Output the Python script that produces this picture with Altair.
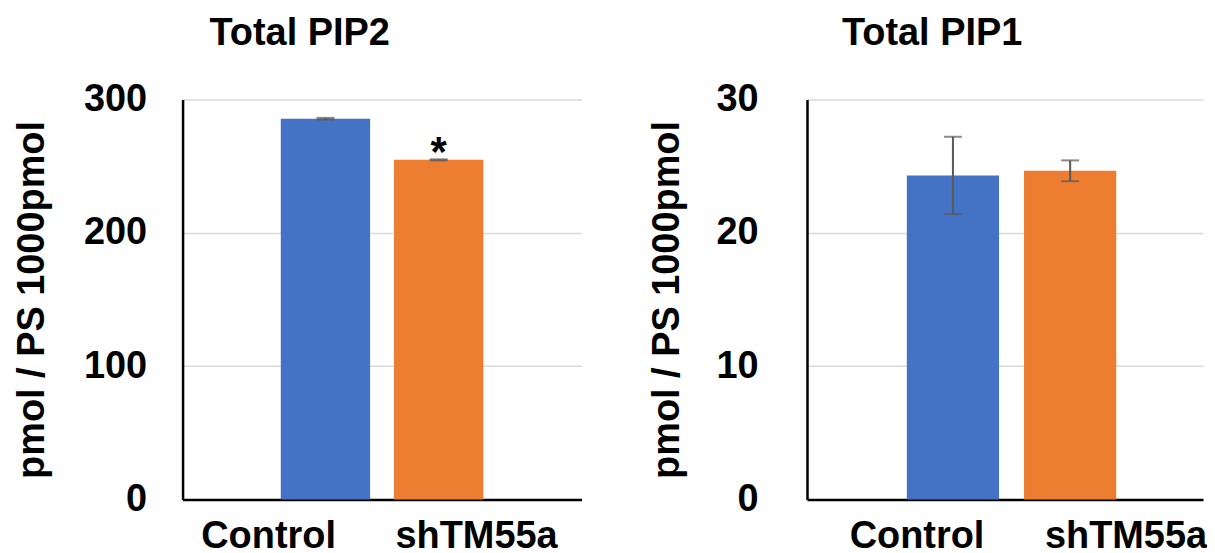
import altair as alt
import pandas as pd

groups = ["Control", "shTM55a"]
colors = ["#4472C4", "#ED7D31"]

pip2_mean = [285.6, 254.7]
pip2_err = [0.6, 0.4]
pip2_note = ["", "*"]

pip1_mean = [24.3, 24.65]
pip1_err = [2.9, 0.78]
pip1_note = ["", ""]

FONT = "Liberation Sans"
FS = 38


def panel(title, mean, err, note, ymax, yticks, width, p_in, p_out, align,
          title_dx, lab_off, ylab_pad, ytitle_pad):
    df = pd.DataFrame({
        "group": groups,
        "mean": mean,
        "lo": [m - e for m, e in zip(mean, err)],
        "hi": [m + e for m, e in zip(mean, err)],
        "note": note,
    })
    x = alt.X(
        "group:N", sort=groups,
        scale=alt.Scale(paddingInner=p_in, paddingOuter=p_out, align=align),
        axis=alt.Axis(
            title=None, labelAngle=0, labelFont=FONT, labelFontSize=FS,
            labelFontWeight="bold", labelColor="black", labelPadding=18,
            ticks=False, tickSize=0, domainColor="black", domainWidth=2.5,
            grid=False,
            labelOffset={"condition": {"test": "datum.value === 'Control'",
                                       "value": lab_off[0]},
                         "value": lab_off[1]},
        ),
    )
    yscale = alt.Scale(domain=[0, ymax], nice=False)
    y = alt.Y(
        "mean:Q", scale=yscale,
        axis=alt.Axis(
            title="pmol / PS 1000pmol", titleFont=FONT, titleFontSize=FS,
            titleFontWeight="bold", titleColor="black", titlePadding=ytitle_pad,
            labelFont=FONT, labelFontSize=FS, labelFontWeight="bold",
            labelColor="black", labelPadding=ylab_pad, ticks=False, tickSize=0,
            values=yticks, domainColor="black", domainWidth=2.5,
            gridColor="#D9D9D9", gridWidth=1.5,
        ),
    )
    base = alt.Chart(df)
    bars = base.mark_bar().encode(
        x=x, y=y,
        color=alt.Color("group:N", sort=groups,
                        scale=alt.Scale(domain=groups, range=colors),
                        legend=None),
    )
    rule = base.mark_rule(color="#595959", strokeWidth=2).encode(
        x=alt.X("group:N", sort=groups), y=alt.Y("lo:Q", scale=yscale), y2="hi:Q")
    cap_lo = base.mark_tick(color="#595959", size=18, thickness=2).encode(
        x=alt.X("group:N", sort=groups), y=alt.Y("lo:Q", scale=yscale))
    cap_hi = base.mark_tick(color="#595959", size=18, thickness=2).encode(
        x=alt.X("group:N", sort=groups), y=alt.Y("hi:Q", scale=yscale))
    txt = base.mark_text(font=FONT, fontSize=42, fontWeight="bold",
                         color="black", baseline="alphabetic", dy=7).encode(
        x=alt.X("group:N", sort=groups), y=alt.Y("hi:Q", scale=yscale),
        text="note:N")
    return alt.layer(bars, rule, cap_lo, cap_hi, txt).properties(
        width=width, height=401,
        title=alt.TitleParams(title, anchor="start", frame="group", dx=title_dx,
                              font=FONT, fontSize=FS, fontWeight="bold",
                              color="black", baseline="alphabetic", offset=-2),
    )


left = panel("Total PIP2", pip2_mean, pip2_err, pip2_note, 300,
             [0, 100, 200, 300], 400, 0.211, 0.8675, 0.5, 27, (-57, 38), 36, 32)
right = panel("Total PIP1", pip1_mean, pip1_err, pip1_note, 30,
              [0, 10, 20, 30], 397, 0.213, 0.796, 0.535, 35, (-36, 56), 49, 30)

chart = alt.hconcat(left, right, spacing=66).properties(
    padding={"left": 5, "top": 6, "right": 0, "bottom": 0}
).configure_view(stroke=None)

chart.save("out.html", embed_options={"renderer": "svg", "actions": False})
